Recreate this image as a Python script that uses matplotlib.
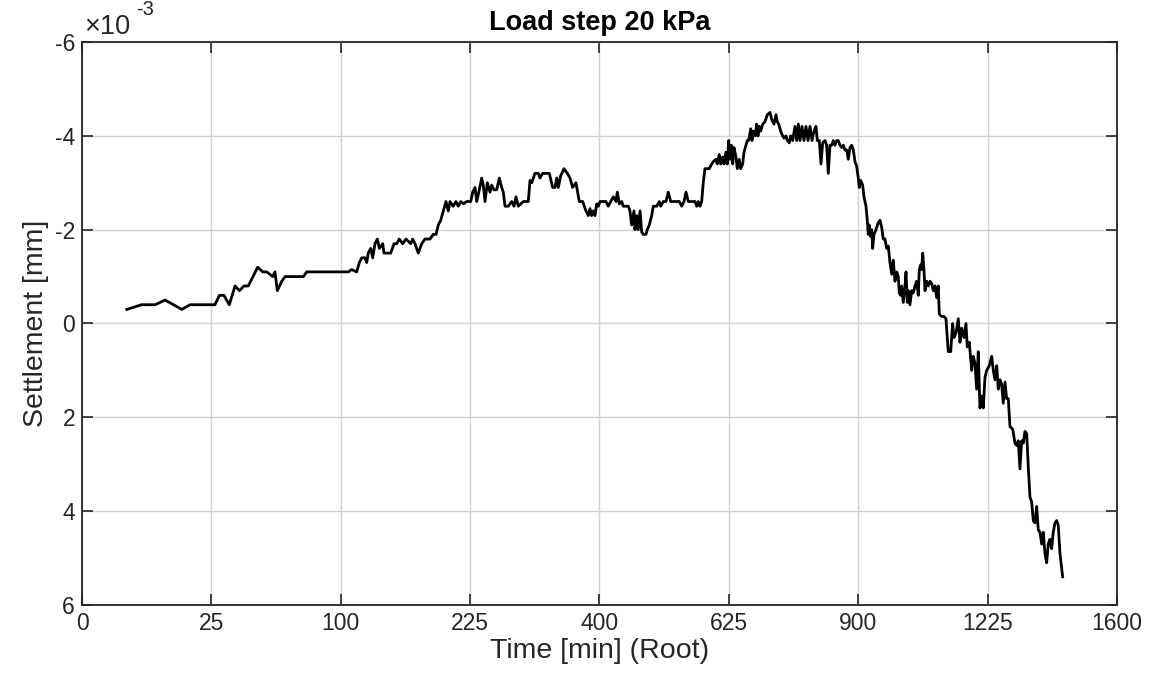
import numpy as np
import matplotlib
matplotlib.use("Agg")
import matplotlib.pyplot as plt
from matplotlib.ticker import FixedLocator, FuncFormatter

plt.rcParams['font.family'] = ['Liberation Sans', 'DejaVu Sans']
plt.rcParams['axes.unicode_minus'] = False

# ---------------- data (time in minutes, settlement in 1e-3 mm) ----------------
time_a = [3.0, 5.3, 8.0, 10.3, 14.9, 17.4, 26.4, 28.2, 30.1, 32.4, 35.0, 37.0, 39.2, 41.3, 46.1, 48.8, 51.0]
settle_a = [-0.3, -0.4, -0.4, -0.5, -0.3, -0.4, -0.4, -0.6, -0.6, -0.4, -0.8, -0.7, -0.8, -0.8, -1.2, -1.1, -1.1]

time_b = [54.3, 55.6, 57.0, 59.6, 61.6, 73.2, 75.4, 105.9, 108.6, 112.7, 114.9, 116.9, 119.6, 121.1,
          122.4, 124.5, 126.2, 128.2, 130.3, 132.0, 135.1, 136.2, 142.3, 145.4, 147.9, 150.4, 153.6, 156.8]
settle_b = [-1.0, -1.1, -0.7, -0.9, -1.0, -1.0, -1.1, -1.1, -1.15, -1.1, -1.3, -1.4, -1.4, -1.3,
            -1.5, -1.6, -1.4, -1.7, -1.8, -1.6, -1.7, -1.5, -1.5, -1.7, -1.7, -1.8, -1.7, -1.8]

time_c = [161.4, 163.3, 165.6, 168.9, 172.4, 175.7, 180.9, 184.3, 187.2, 189.6, 192.2, 195.0, 197.9, 200.4,
          202.3, 205.9, 208.9, 211.5, 214.2, 217.2, 221.0, 225.7, 228.0, 230.7, 232.7, 235.8, 238.6, 240.5,
          242.6, 245.4, 248.6, 250.7, 253.5, 256.9, 260.1, 263.1, 265.1, 267.3, 271.4, 275.8, 278.8, 281.3,
          284.3, 287.5, 290.9, 297.5, 299.8, 302.1, 306.5, 311.0, 313.3, 317.0, 321.6, 326.2, 330.9, 334.2,
          336.6, 338.9, 342.3, 347.0, 351.8, 355.7, 359.6, 364.5, 369.4, 374.5, 379.4, 382.9, 385.5, 388.0,
          390.5, 393.1, 395.7, 398.2, 400.8, 405.9, 410.1, 413.7, 417.5, 421.6, 425.9, 428.0, 431.2, 435.1,
          437.6, 445.8, 448.5, 451.3, 455.1, 456.7, 459.6, 462.2, 465.1, 467.9, 470.6, 475.1, 477.3, 480.7,
          484.8, 487.5, 493.3, 497.8, 500.2, 504.7, 509.4, 513.4, 517.7, 522.2, 528.2, 532.9, 537.2, 541.3,
          544.9, 549.1, 552.1]
settle_c = [-1.7, -1.8, -1.7, -1.5, -1.7, -1.8, -1.8, -1.9, -1.9, -2.1, -2.2, -2.4, -2.6, -2.4,
            -2.6, -2.5, -2.6, -2.5, -2.6, -2.55, -2.6, -2.6, -2.8, -2.9, -2.6, -2.85, -3.1, -2.95,
            -2.6, -3.0, -2.8, -2.95, -2.85, -2.85, -3.1, -2.9, -2.8, -2.5, -2.5, -2.6, -2.5, -2.7,
            -2.5, -2.55, -2.6, -2.6, -3.05, -3.0, -3.2, -3.2, -3.1, -3.2, -3.2, -3.2, -2.9, -2.9,
            -3.1, -2.9, -3.15, -3.3, -3.2, -3.1, -2.9, -3.0, -2.6, -2.6, -2.4, -2.3, -2.45, -2.3,
            -2.4, -2.3, -2.55, -2.5, -2.6, -2.6, -2.6, -2.5, -2.6, -2.7, -2.6, -2.8, -2.55, -2.6,
            -2.5, -2.5, -2.4, -2.1, -2.4, -2.0, -2.3, -2.0, -2.4, -1.95, -1.9, -1.9, -2.0, -2.1,
            -2.3, -2.5, -2.5, -2.6, -2.5, -2.6, -2.6, -2.8, -2.6, -2.6, -2.6, -2.6, -2.5, -2.6,
            -2.8, -2.6, -2.6]

time_d = [561.3, 564.4, 567.3, 570.4, 573.6, 576.5, 579.7, 584.0, 587.7, 592.2, 595.3, 600.4, 602.8, 606.6,
          609.3, 613.1, 615.6, 619.4, 622.0, 624.7, 627.2, 629.7, 632.4, 634.9, 638.8, 641.4, 645.3, 648.1,
          652.0, 654.6, 658.5, 661.1, 663.9, 667.9, 670.5, 673.1, 677.1, 679.9, 682.6, 685.2, 688.0, 692.1,
          696.8, 701.5, 707.0, 710.5, 715.2, 719.4, 722.1, 725.0, 729.2, 733.3, 736.1, 740.3, 743.0, 747.2,
          750.2, 754.4, 759.3, 762.9, 766.4, 770.0, 774.3, 778.6, 782.9, 787.3, 791.6, 796.0, 800.3, 804.7,
          807.6, 812.0, 815.7, 819.5, 824.5, 828.3, 831.9, 835.7]
settle_d = [-2.6, -2.5, -2.6, -2.5, -2.6, -3.0, -3.3, -3.3, -3.3, -3.4, -3.45, -3.5, -3.4, -3.6,
            -3.4, -3.55, -3.4, -3.65, -3.4, -3.9, -3.5, -3.8, -3.4, -3.75, -3.55, -3.3, -3.5, -3.3,
            -3.4, -3.65, -3.8, -3.9, -3.9, -4.15, -3.9, -4.1, -4.0, -4.25, -4.0, -4.2, -4.1, -4.25,
            -4.3, -4.45, -4.5, -4.35, -4.25, -4.45, -4.3, -4.25, -4.1, -4.0, -3.95, -4.0, -3.9, -3.85,
            -4.0, -3.9, -4.2, -3.9, -4.25, -3.9, -4.2, -3.9, -4.2, -3.9, -4.2, -3.9, -4.1, -4.2,
            -3.9, -3.9, -3.4, -3.85, -3.9, -3.8, -3.2, -3.8]

time_e = [839.5, 843.1, 846.9, 850.7, 854.3, 858.2, 862.0, 865.7, 869.5, 873.4, 877.1, 881.0, 884.9, 888.6,
          892.5, 896.4, 900.1, 902.4, 905.7, 910.3, 913.4, 918.1, 921.1, 923.4, 925.8, 929.1, 931.5, 933.8,
          936.9, 941.6, 947.1, 951.2, 955.2, 959.0, 963.1, 967.2, 971.1, 975.1, 979.3, 983.1, 987.2, 991.4,
          995.3, 997.7, 1001.2, 1003.6, 1007.5, 1011.7, 1014.2, 1017.4, 1019.8, 1024.0, 1028.2, 1032.2,
          1036.4, 1040.6, 1044.7, 1047.2, 1050.7, 1053.1, 1055.7, 1058.9, 1061.5, 1065.8, 1069.8, 1074.1,
          1078.4, 1082.5, 1086.8, 1091.1, 1095.2, 1097.8, 1103.4, 1109.8, 1115.0]
settle_e = [-3.8, -3.9, -3.8, -3.9, -3.9, -3.8, -3.75, -3.8, -3.7, -3.7, -3.5, -3.75, -3.8, -3.7,
            -3.45, -3.35, -3.1, -2.9, -3.05, -2.95, -2.7, -2.5, -2.2, -1.9, -2.1, -1.85, -2.0, -1.6,
            -1.9, -2.0, -2.15, -2.2, -2.05, -1.8, -1.8, -1.6, -1.65, -1.3, -1.05, -1.35, -0.9, -1.1,
            -1.0, -0.65, -0.6, -0.8, -0.45, -0.8, -1.1, -0.45, -0.7, -0.4, -0.7, -0.65,
            -0.8, -0.9, -0.6, -1.15, -1.25, -1.15, -1.5, -1.15, -0.7, -0.9, -0.8, -0.9,
            -0.85, -0.7, -0.8, -0.55, -0.8, -0.2, -0.15, -0.15, -0.1]

time_f = [1120.9, 1127.2, 1132.3, 1135.7, 1141.0, 1147.0, 1151.4, 1155.9, 1161.9, 1167.2, 1170.6, 1175.9,
          1182.3, 1186.5, 1191.1, 1195.6, 1199.9, 1204.4, 1209.0, 1213.3, 1217.9, 1222.5, 1229.6, 1236.1,
          1240.5, 1245.0, 1249.7, 1254.1, 1258.8, 1263.4, 1267.8, 1272.5, 1277.1, 1281.6, 1286.3, 1293.8,
          1300.2, 1304.9, 1309.4, 1314.1, 1318.9, 1323.4, 1328.2, 1333.0, 1337.5, 1342.3, 1347.1, 1351.7,
          1356.5, 1361.3, 1365.9, 1370.8, 1375.7, 1380.3, 1385.1, 1390.0, 1394.7, 1399.5, 1404.5, 1409.1,
          1414.1, 1419.0, 1423.6, 1428.6, 1436.5]
settle_f = [0.6, 0.6, 0.0, 0.3, 0.2, -0.1, 0.4, 0.1, 0.3, 0.0, 0.5, 0.4,
            1.0, 0.7, 0.85, 1.4, 0.6, 1.8, 1.55, 1.8, 1.15, 1.0, 0.9, 0.7,
            1.0, 1.2, 0.9, 1.4, 1.2, 1.3, 1.7, 1.25, 1.6, 1.6, 2.2, 2.25,
            2.55, 2.6, 2.5, 3.1, 2.5, 2.55, 2.3, 2.35, 3.05, 3.7, 3.8, 4.2,
            4.25, 3.9, 4.4, 4.45, 4.7, 4.45, 4.9, 5.1, 4.7, 4.6, 4.8, 4.45,
            4.25, 4.2, 4.3, 4.9, 5.4]

x_ticks = [0, 25, 100, 225, 400, 625, 900, 1225, 1600]
y_ticks = [-6e-3, -4e-3, -2e-3, 0, 2e-3, 4e-3, 6e-3]
y_scale_exp = -3

time_min = np.array(time_a + time_b + time_c + time_d + time_e + time_f)
settlement_mm = np.array(settle_a + settle_b + settle_c + settle_d + settle_e + settle_f) * 10.0 ** y_scale_exp

# ---------------- figure ----------------
TXT = '#262626'
fig = plt.figure(figsize=(11.6, 6.91), dpi=100)
ax = fig.add_axes([0.0707, 0.1245, 0.8922, 0.8147])

ax.set_xscale('function', functions=(lambda x: np.sqrt(np.clip(x, 0, None)), lambda x: x ** 2))
ax.plot(time_min, settlement_mm, color='black', lw=2.0, zorder=3)

ax.set_xlim(0, 1600)
ax.set_ylim(6e-3, -6e-3)
ax.xaxis.set_major_locator(FixedLocator(x_ticks))
ax.xaxis.set_minor_locator(FixedLocator([]))
ax.xaxis.set_major_formatter(FuncFormatter(lambda v, p: f"{v:g}"))
ax.yaxis.set_major_locator(FixedLocator(y_ticks))
ax.yaxis.set_major_formatter(FuncFormatter(lambda v, p: f"{round(v / 10.0 ** y_scale_exp):d}"))

ax.grid(True, color='#d0d0d0', lw=1.0, zorder=0)
ax.tick_params(direction='in', length=8, width=1.2, top=True, right=True,
               labelsize=16.5, colors=TXT, pad=5)
for sp in ax.spines.values():
    sp.set_linewidth(1.3)
    sp.set_color(TXT)

# exponent multiplier (MATLAB style)
ax.text(0.002, 1.004, '\u00d710', transform=ax.transAxes, fontsize=19.5, color=TXT,
        ha='left', va='bottom')
ax.text(0.052, 1.040, f'{y_scale_exp}', transform=ax.transAxes, fontsize=14.5, color=TXT,
        ha='left', va='bottom')

ax.set_xlabel('Time [min] (Root)', fontsize=20.5, color=TXT, labelpad=2)
ax.set_ylabel('Settlement [mm]', fontsize=20.5, color=TXT, labelpad=4)
ax.set_title('Load step 20 kPa', fontsize=19.5, fontweight='bold', pad=9)

fig.savefig('out.png', dpi=100)
